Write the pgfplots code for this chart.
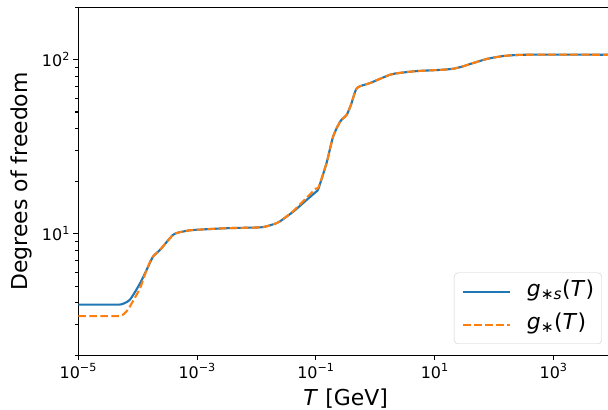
\documentclass[border=0pt]{standalone}
\usepackage{fontspec}
\setmainfont{DejaVu Sans}
\usepackage{pgfplots}
\usepackage{pgfplotstable}
\pgfplotsset{compat=1.18}
\definecolor{mplblue}{HTML}{1F77B4}
\definecolor{mplorange}{HTML}{FF7F0E}

% g_{*s}(T)
\pgfplotstableread{
T g
1e-5 3.91
4e-5 3.91
5.37e-5 3.93
7.41e-5 4.18
1.10e-4 5.2
1.51e-4 6.5
1.82e-4 7.4
2.40e-4 8.1
3.98e-4 9.87
5.89e-4 10.3
8.71e-4 10.5
3.16e-3 10.75
1.15e-2 10.87
1.58e-2 11.1
2.19e-2 11.5
2.51e-2 11.8
4.17e-2 13.4
7.08e-2 15.7
0.1 17.4
0.110 18.1
0.151 25.5
0.195 36.2
0.257 44.2
0.331 48.3
0.398 56.3
0.490 68.7
0.813 73.4
1.78 82.0
2.63 84.0
5.01 86.0
12.6 87.4
20.0 88.6
28.2 91.0
41.7 95.0
75.9 101
145 105
355 106.75
1e4 106.75
}\gstars

% g_*(T)
\pgfplotstableread{
T g
1e-5 3.36
4e-5 3.36
5.37e-5 3.38
6.46e-5 3.57
7.41e-5 3.82
8.91e-5 4.27
1.10e-4 4.87
1.32e-4 5.81
1.62e-4 6.93
1.82e-4 7.4
2.40e-4 8.1
3.98e-4 9.87
5.89e-4 10.3
8.71e-4 10.5
3.16e-3 10.75
1.15e-2 10.87
1.58e-2 11.1
2.19e-2 11.5
2.51e-2 11.8
4.17e-2 13.5
7.08e-2 16.2
0.1 18.2
0.110 18.4
0.151 25.5
0.195 36.2
0.257 44.2
0.331 48.3
0.398 56.3
0.490 68.7
0.813 73.4
1.78 82.0
2.63 84.0
5.01 86.0
12.6 87.4
20.0 88.6
28.2 91.0
41.7 95.0
75.9 101
145 105
355 106.75
1e4 106.75
}\gstar

\begin{document}
\begin{tikzpicture}
\begin{axis}[
  scale only axis,
  width=534.7bp, height=348bp,
  xmode=log, ymode=log,
  xmin=1e-5, xmax=1e4,
  ymin=2, ymax=200,
  xtick={1e-5,1e-3,1e-1,1e1,1e3},
  xticklabels={10\textsuperscript{−5},10\textsuperscript{−3},10\textsuperscript{−1},10\textsuperscript{1},10\textsuperscript{3}},
  ytick={10,100},
  yticklabels={10\textsuperscript{1},10\textsuperscript{2}},
  minor xtick={},
  minor ytick={2,3,4,5,6,7,8,9,20,30,40,50,60,70,80,90,200},
  tick pos=left,
  tick align=outside,
  major tick length=4.9bp,
  minor tick length=2.8bp,
  every tick/.style={black, line width=1.1bp},
  axis line style={line width=1.1bp},
  ticklabel style={font=\fontsize{16}{19}\selectfont},
  xlabel={\textit{T} [GeV]},
  ylabel={Degrees of freedom},
  label style={font=\fontsize{22}{26}\selectfont},
  xlabel style={at={(axis description cs:0.5,-0.1443)}, anchor=base},
  ylabel style={at={(axis description cs:-0.0941,0.5)}, anchor=base},
  legend style={at={(rel axis cs:0.9794,0.0325)}, anchor=south east,
    draw=black!20, rounded corners=4bp, fill=white, fill opacity=0.8, text opacity=1,
    font=\fontsize{22}{26}\selectfont, inner xsep=7.7bp, inner ysep=8bp, row sep=11bp,
    nodes={inner sep=0pt, text height=16bp, text depth=6bp}},
  legend cell align=left,
  legend image code/.code={\draw[#1] (0bp,0bp) -- (47bp,0bp); \path (63bp,0bp);},
]
\coordinate (bl) at (rel axis cs:0,0);
\coordinate (tr) at (rel axis cs:1,1);
\addplot[mplblue, line width=2.1bp, line join=round, smooth, tension=0.4] table[x=T, y=g] {\gstars};
\addlegendentry{\textit{g}\textsubscript{∗\textit{s}}(\textit{T})}
\addplot[mplorange, line width=2.1bp, line join=round, smooth, tension=0.4, dash pattern=on 7.7bp off 3.3bp] table[x=T, y=g] {\gstar};
\addlegendentry{\textit{g}\textsubscript{∗}(\textit{T})}
\end{axis}
\pgfresetboundingbox
\path[use as bounding box] ([xshift=-78.3bp,yshift=-54.7bp]bl) rectangle ([xshift=-5bp,yshift=7.3bp]tr);
\end{tikzpicture}
\end{document}
